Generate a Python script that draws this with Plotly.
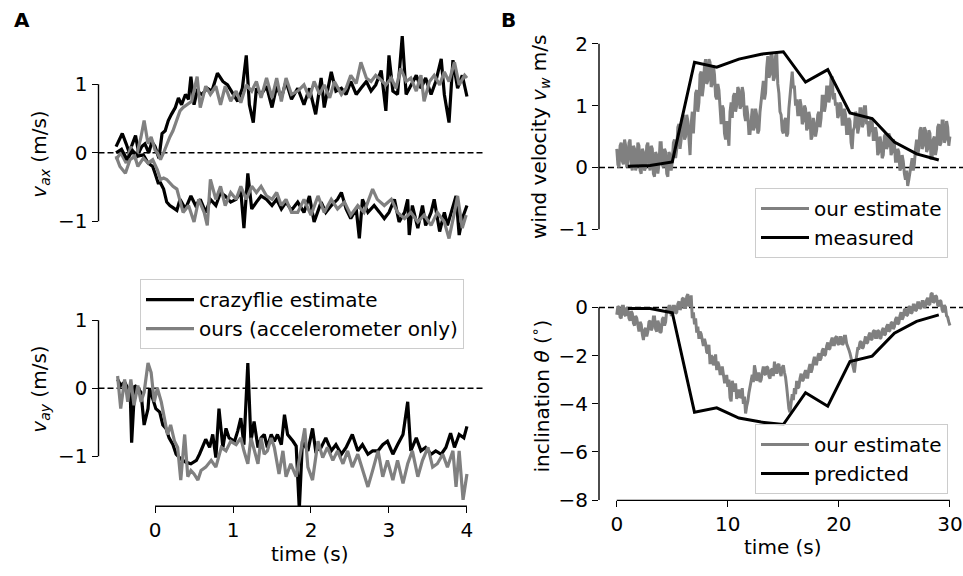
import numpy as np
import plotly.graph_objects as go

# ---------------- data ----------------
# Panel A, top: v_ax, two runs (positive / negative), (time s, m/s)
vax_pos_crazyflie = [(-0.50,0.09),(-0.42,0.28),(-0.37,0.13),(-0.33,0.00),(-0.29,0.13),(-0.25,0.25),(-0.21,0.00),(-0.17,0.09),(-0.13,0.13),(-0.08,0.00),(-0.04,0.16),(0.00,0.09),(0.05,-0.08),(0.09,0.28),(0.13,0.32),(0.17,0.47),(0.21,0.56),(0.26,0.66),(0.30,0.80),(0.34,0.70),(0.39,0.85),(0.43,0.78),(0.46,1.11),(0.50,0.70),(0.54,0.90),(0.60,0.85),(0.67,0.94),(0.73,0.90),(0.80,1.16),(0.87,1.04),(0.93,0.99),(1.00,0.85),(1.06,0.75),(1.12,0.94),(1.17,1.42),(1.21,0.70),(1.26,0.44),(1.30,0.94),(1.36,0.85),(1.43,0.97),(1.50,0.66),(1.56,0.97),(1.62,0.80),(1.68,1.04),(1.75,0.78),(1.83,0.94),(1.91,0.70),(1.98,0.94),(2.06,0.56),(2.13,1.09),(2.17,0.66),(2.26,1.18),(2.32,0.90),(2.39,0.94),(2.45,0.85),(2.51,1.04),(2.58,0.85),(2.64,0.94),(2.71,1.04),(2.77,0.90),(2.83,0.99),(2.90,1.20),(2.96,0.61),(3.00,1.42),(3.05,0.90),(3.11,0.85),(3.17,1.70),(3.22,0.85),(3.28,0.99),(3.35,1.13),(3.41,0.94),(3.47,1.09),(3.54,0.85),(3.60,1.04),(3.67,1.37),(3.71,0.85),(3.77,0.44),(3.82,1.35),(3.88,0.94),(3.94,1.13),(4.00,0.82)]
vax_pos_ours = [(-0.50,-0.10),(-0.44,0.00),(-0.37,-0.15),(-0.31,0.09),(-0.25,-0.10),(-0.18,0.23),(-0.14,0.47),(-0.09,0.13),(-0.05,0.23),(0.00,0.04),(0.03,0.00),(0.07,-0.10),(0.11,0.00),(0.15,0.13),(0.19,0.23),(0.23,0.32),(0.28,0.47),(0.32,0.61),(0.36,0.66),(0.41,0.70),(0.47,0.75),(0.54,1.11),(0.58,0.66),(0.65,0.97),(0.71,0.85),(0.78,0.97),(0.84,0.70),(0.90,0.97),(0.97,0.75),(1.04,0.90),(1.10,0.73),(1.17,0.99),(1.24,0.90),(1.30,1.04),(1.36,0.80),(1.43,1.09),(1.50,0.80),(1.56,1.09),(1.62,0.75),(1.68,1.09),(1.75,0.85),(1.83,0.90),(1.91,0.99),(1.98,0.80),(2.04,1.04),(2.11,0.85),(2.17,0.99),(2.24,0.80),(2.30,1.04),(2.39,0.85),(2.45,0.94),(2.51,1.13),(2.58,1.01),(2.64,1.32),(2.71,1.09),(2.77,1.04),(2.83,1.13),(2.90,1.06),(2.96,0.99),(3.03,1.09),(3.09,0.94),(3.15,1.23),(3.22,1.04),(3.28,1.09),(3.35,0.90),(3.41,1.13),(3.45,0.75),(3.52,1.04),(3.58,1.13),(3.65,0.99),(3.71,1.18),(3.77,1.04),(3.84,1.32),(3.90,0.99),(3.97,1.13),(4.00,1.09)]
vax_neg_crazyflie = [(-0.50,0.00),(-0.43,0.05),(-0.36,-0.10),(-0.29,0.03),(-0.22,-0.05),(-0.15,-0.03),(-0.09,-0.15),(-0.03,-0.20),(0.00,-0.30),(0.04,-0.44),(0.07,-0.44),(0.11,-0.53),(0.15,-0.72),(0.19,-0.77),(0.23,-0.80),(0.28,-0.84),(0.32,-0.68),(0.39,-0.82),(0.46,-0.63),(0.52,-0.77),(0.58,-0.68),(0.65,-0.87),(0.71,-0.68),(0.78,-0.77),(0.84,-0.58),(0.90,-0.63),(0.97,-0.72),(1.04,-0.68),(1.10,-0.56),(1.14,-1.10),(1.19,-0.30),(1.24,-0.82),(1.30,-0.72),(1.36,-0.63),(1.43,-0.68),(1.50,-0.77),(1.56,-0.68),(1.62,-0.82),(1.68,-0.72),(1.75,-0.84),(1.83,-0.72),(1.91,-0.87),(1.98,-0.63),(2.04,-1.01),(2.13,-0.72),(2.19,-0.87),(2.26,-0.77),(2.34,-0.68),(2.39,-0.58),(2.45,-0.82),(2.51,-0.96),(2.58,-0.82),(2.62,-1.25),(2.66,-0.68),(2.73,-0.87),(2.81,-0.77),(2.88,-0.87),(2.94,-0.96),(3.00,-0.87),(3.07,-0.68),(3.13,-1.01),(3.20,-0.87),(3.24,-0.68),(3.26,-1.20),(3.30,-0.77),(3.37,-1.10),(3.43,-0.77),(3.47,-1.06),(3.54,-0.87),(3.58,-0.68),(3.65,-1.15),(3.71,-0.87),(3.75,-1.06),(3.80,-0.87),(3.86,-0.63),(3.90,-1.20),(3.94,-0.96),(4.00,-0.77)]
vax_neg_ours = [(-0.50,-0.05),(-0.45,-0.20),(-0.38,-0.30),(-0.32,-0.10),(-0.26,-0.05),(-0.22,-0.20),(-0.15,-0.08),(-0.09,-0.15),(-0.03,-0.10),(0.03,-0.25),(0.07,-0.39),(0.11,-0.37),(0.15,-0.39),(0.19,-0.44),(0.23,-0.49),(0.28,-0.53),(0.32,-0.68),(0.36,-0.87),(0.43,-0.77),(0.50,-1.01),(0.56,-0.68),(0.63,-0.87),(0.67,-1.06),(0.71,-0.39),(0.78,-0.68),(0.84,-0.49),(0.90,-0.77),(0.97,-0.58),(1.04,-0.68),(1.10,-0.49),(1.17,-0.68),(1.24,-0.49),(1.30,-0.58),(1.36,-0.49),(1.43,-0.63),(1.50,-0.68),(1.56,-0.58),(1.62,-0.77),(1.68,-0.68),(1.75,-0.87),(1.83,-0.87),(1.91,-0.68),(2.00,-0.91),(2.09,-0.63),(2.17,-0.87),(2.26,-0.68),(2.34,-0.82),(2.43,-0.72),(2.51,-0.91),(2.60,-0.77),(2.68,-0.87),(2.79,-0.53),(2.85,-0.68),(2.94,-0.77),(3.03,-0.68),(3.11,-0.87),(3.20,-0.96),(3.28,-0.87),(3.37,-1.01),(3.45,-0.91),(3.54,-1.06),(3.62,-0.87),(3.71,-1.01),(3.77,-1.25),(3.84,-0.87),(3.88,-0.63),(3.94,-1.10),(3.99,-0.91)]

# Panel A, bottom: v_ay
vay_crazyflie = [(-0.48,0.13),(-0.44,0.04),(-0.39,0.09),(-0.35,0.00),(-0.32,0.00),(-0.30,-0.80),(-0.26,0.04),(-0.22,0.00),(-0.18,-0.06),(-0.14,-0.54),(-0.09,-0.30),(-0.07,0.00),(-0.03,-0.15),(0.01,-0.30),(0.06,-0.35),(0.10,-0.54),(0.14,-0.59),(0.18,-0.73),(0.23,-0.83),(0.27,-0.97),(0.33,-1.04),(0.40,-1.09),(0.46,-1.11),(0.53,-1.06),(0.57,-0.97),(0.61,-0.87),(0.65,-0.75),(0.70,-0.87),(0.74,-0.68),(0.78,-1.02),(0.82,-0.30),(0.87,-0.87),(0.91,-0.59),(0.95,-0.73),(1.02,-0.78),(1.06,-0.63),(1.10,-0.44),(1.14,-0.83),(1.19,0.37),(1.23,-0.78),(1.27,-0.49),(1.32,-0.87),(1.36,-0.73),(1.40,-0.68),(1.44,-0.87),(1.49,-0.68),(1.53,-0.78),(1.57,-0.68),(1.62,-0.83),(1.66,-0.39),(1.70,-0.68),(1.77,-0.78),(1.81,-0.85),(1.85,-1.78),(1.89,-0.78),(1.96,-0.92),(2.02,-0.59),(2.06,-0.92),(2.13,-0.87),(2.19,-0.73),(2.26,-0.92),(2.32,-0.83),(2.39,-0.97),(2.45,-0.87),(2.53,-0.68),(2.60,-0.92),(2.66,-0.83),(2.73,-0.97),(2.79,-0.92),(2.86,-0.92),(2.92,-0.83),(2.98,-0.78),(3.05,-0.97),(3.11,-0.83),(3.18,-0.68),(3.24,-0.20),(3.28,-0.92),(3.35,-0.73),(3.41,-0.92),(3.47,-0.87),(3.54,-0.97),(3.60,-0.92),(3.67,-0.97),(3.73,-0.87),(3.79,-0.66),(3.84,-0.87),(3.90,-0.68),(3.96,-0.73),(4.00,-0.56)]
vay_ours = [(-0.48,0.18),(-0.44,-0.30),(-0.39,0.13),(-0.35,-0.20),(-0.31,0.13),(-0.27,-0.25),(-0.22,0.04),(-0.18,-0.20),(-0.14,-0.06),(-0.09,0.37),(-0.05,0.23),(-0.01,-0.20),(0.03,0.00),(0.08,-0.20),(0.12,-0.44),(0.16,-0.68),(0.20,-0.54),(0.25,-0.78),(0.29,-0.87),(0.33,-1.35),(0.38,-0.68),(0.42,-1.30),(0.46,-1.21),(0.50,-1.26),(0.55,-1.35),(0.59,-1.21),(0.65,-1.16),(0.72,-1.06),(0.78,-1.16),(0.85,-0.87),(0.91,-0.92),(0.97,-0.78),(1.04,-0.83),(1.10,-0.73),(1.14,-0.92),(1.19,-1.11),(1.23,-0.73),(1.27,-0.92),(1.32,-1.11),(1.36,-0.73),(1.40,-0.97),(1.44,-0.92),(1.49,-0.73),(1.53,-0.87),(1.59,-1.26),(1.64,-0.92),(1.68,-1.30),(1.74,-1.11),(1.81,-1.30),(1.87,-0.92),(1.92,-0.59),(1.96,-1.16),(2.02,-1.35),(2.09,-0.78),(2.15,-1.02),(2.21,-0.87),(2.28,-1.06),(2.34,-0.92),(2.41,-1.11),(2.47,-0.92),(2.53,-1.16),(2.60,-0.97),(2.66,-1.21),(2.73,-1.45),(2.79,-1.21),(2.86,-0.92),(2.92,-1.30),(2.98,-1.06),(3.05,-1.35),(3.11,-1.06),(3.18,-1.40),(3.24,-1.11),(3.30,-0.92),(3.37,-1.30),(3.43,-1.06),(3.50,-0.87),(3.56,-1.16),(3.62,-1.11),(3.69,-0.97),(3.75,-1.16),(3.82,-0.92),(3.86,-1.45),(3.90,-0.92),(3.95,-1.64),(4.00,-1.26)]

# Panel B, top: wind velocity (m/s); estimate sampled every 0.1 s from 0 to 30 s (one row per second)
wind_estimate = [
    0.30,0.05,0.00,0.35,0.40,0.10,0.05,0.45,0.35,0.00,
    0.10,0.40,0.45,0.05,-0.05,0.35,0.30,-0.05,0.05,0.40,
    0.35,-0.05,-0.10,0.30,0.25,-0.05,0.00,0.35,0.40,0.05,
    -0.05,0.35,0.30,-0.10,-0.15,0.25,0.20,-0.10,0.05,0.40,
    0.40,0.05,0.00,0.30,0.25,-0.10,-0.15,0.25,0.20,-0.05,
    0.10,0.40,0.45,0.15,0.30,0.65,0.70,0.30,0.45,0.80,
    0.85,0.45,0.50,0.85,0.75,0.35,0.20,0.70,0.90,0.55,
    0.80,1.20,1.25,0.90,1.05,1.50,1.55,1.15,1.30,1.65,
    1.75,1.35,1.40,1.75,1.70,1.30,1.35,1.65,1.50,1.15,
    1.10,1.35,1.25,0.85,0.70,1.00,0.95,0.55,0.45,0.75,
    0.55,0.35,0.90,1.05,0.80,1.15,1.20,0.90,1.00,1.30,
    1.25,0.95,1.00,1.30,1.20,0.85,0.75,1.00,0.85,0.55,
    0.55,0.85,0.95,0.60,0.65,0.95,0.85,0.55,0.60,0.90,
    1.05,1.30,1.40,1.10,1.20,1.60,1.80,1.45,1.50,1.85,
    1.80,1.40,1.45,1.80,1.85,1.35,1.20,0.90,0.85,0.60,
    0.55,0.75,0.80,0.50,0.55,0.95,1.20,1.45,1.55,1.30,
    1.30,1.00,1.10,0.85,0.85,1.10,1.00,0.70,0.75,1.00,
    0.95,0.60,0.65,0.90,0.80,0.45,0.50,0.80,0.70,0.50,
    0.60,0.85,0.90,0.65,0.80,1.15,1.15,0.90,1.00,1.30,
    1.30,1.05,1.15,1.45,1.45,1.10,1.20,1.00,1.05,0.80,
    0.85,1.05,1.00,0.70,0.70,0.95,0.85,0.55,0.55,0.80,
    0.75,0.40,0.30,0.60,0.65,0.90,0.85,0.55,0.65,0.95,
    0.95,0.65,0.70,0.98,0.98,0.70,0.75,0.50,0.60,0.80,
    0.75,0.45,0.45,0.65,0.55,0.20,0.25,0.50,0.40,0.15,
    0.20,0.50,0.55,0.30,0.35,0.55,0.50,0.20,0.25,0.45,
    0.40,0.10,0.10,0.30,0.25,-0.05,0.00,0.20,0.10,-0.10,
    -0.20,-0.05,-0.30,-0.20,-0.05,0.10,0.15,-0.05,0.05,0.30,
    0.45,0.20,0.30,0.60,0.65,0.30,0.35,0.65,0.60,0.25,
    0.30,0.60,0.55,0.15,0.15,0.45,0.50,0.20,0.30,0.65,
    0.70,0.35,0.40,0.75,0.75,0.40,0.45,0.75,0.65,0.35,
    0.50]
wind_meas_t = [1, 3, 5, 7, 9, 11, 13, 15, 17, 19, 21, 23, 25, 27, 29]
wind_measured = [0.02, 0.03, 0.09, 1.70, 1.62, 1.75, 1.83, 1.87, 1.38, 1.58, 0.88, 0.79, 0.41, 0.22, 0.12]

# Panel B, bottom: inclination (deg); estimate sampled every 0.1 s from 0 to 30 s
incl_estimate = [
    -0.30,0.05,0.00,-0.40,-0.45,0.05,0.05,-0.30,-0.35,0.00,
    -0.10,-0.45,-0.55,-0.15,-0.25,-0.65,-0.75,-0.35,-0.45,-0.85,
    -1.00,-0.60,-0.70,-1.10,-1.35,-0.95,-0.85,-1.20,-1.00,-0.60,
    -0.55,-0.95,-0.85,-0.40,-0.40,-0.90,-1.00,-0.55,-0.70,-1.05,
    -1.00,-0.50,-0.40,-0.75,-0.60,-0.10,-0.10,0.05,0.05,-0.30,
    -0.30,0.05,0.05,-0.25,-0.20,0.15,0.25,-0.10,0.00,0.35,
    0.40,0.00,0.00,0.45,0.55,0.05,0.10,0.50,-0.45,-0.20,
    -0.70,-0.45,-1.05,-0.80,-1.30,-1.00,-1.10,-1.35,-1.60,-1.30,
    -1.50,-1.85,-1.90,-1.55,-2.35,-2.00,-2.05,-2.40,-2.25,-1.95,
    -2.60,-2.25,-2.40,-2.75,-2.75,-2.45,-2.85,-3.10,-3.10,-2.80,
    -3.30,-3.00,-3.75,-3.90,-3.05,-3.35,-3.50,-3.15,-3.80,-3.55,
    -3.40,-3.75,-3.70,-3.35,-4.00,-3.70,-4.40,-4.10,-3.90,-3.55,
    -3.30,-3.05,-2.80,-3.10,-2.40,-2.65,-3.05,-2.75,-2.75,-3.10,
    -3.00,-2.70,-2.45,-2.75,-2.80,-2.45,-2.50,-2.85,-2.95,-2.60,
    -2.55,-2.85,-2.25,-2.55,-2.75,-2.40,-2.35,-2.70,-2.85,-2.50,
    -2.40,-2.70,-2.90,-3.30,-3.90,-4.20,-4.35,-3.95,-3.60,-3.85,
    -3.35,-3.60,-3.05,-3.35,-3.30,-2.95,-2.75,-3.05,-3.00,-2.75,
    -2.60,-2.90,-2.90,-2.55,-2.35,-2.70,-2.55,-2.25,-2.05,-2.35,
    -2.35,-2.05,-1.90,-2.20,-2.10,-1.80,-1.70,-2.00,-1.95,-1.60,
    -1.45,-1.75,-1.70,-1.40,-1.25,-1.55,-1.55,-1.25,-1.20,-1.50,
    -1.55,-1.25,-1.25,-1.55,-1.50,-1.20,-1.20,-1.50,-1.60,-1.75,
    -1.90,-2.10,-2.25,-2.45,-2.70,-2.30,-1.95,-1.70,-1.70,-1.45,
    -1.40,-1.70,-1.65,-1.35,-1.20,-1.50,-1.45,-1.15,-1.05,-1.35,
    -1.30,-1.00,-0.95,-1.25,-1.25,-0.95,-1.00,-1.30,-1.25,-0.95,
    -0.85,-1.15,-1.10,-0.80,-0.70,-1.00,-0.95,-0.65,-0.60,-0.90,
    -0.80,-0.50,-0.40,-0.70,-0.65,-0.35,-0.20,-0.50,-0.40,-0.10,
    -0.05,-0.35,-0.30,0.00,0.05,-0.25,-0.20,0.10,0.10,-0.15,
    -0.10,0.20,0.20,-0.05,0.00,0.25,0.25,0.00,0.05,0.30,
    0.40,0.10,0.15,0.55,0.60,0.20,0.25,0.50,0.45,0.10,
    0.05,0.30,0.25,-0.10,-0.20,0.10,0.00,-0.35,-0.40,-0.60,
    -0.75]
incl_pred_t = [1, 3, 5, 7, 9, 11, 13, 15, 17, 19, 21, 23, 25, 27, 29]
incl_predicted = [-0.04, -0.04, -0.22, -4.35, -4.17, -4.59, -4.76, -4.86, -3.54, -4.10, -2.25, -2.02, -1.07, -0.58, -0.31]

# ---------------- styling ----------------
FONT = "DejaVu Sans"
FS = 20
BLACK = "#000000"
GRAY = "#808080"
LW = 3.2
W, H = 963, 576


def px_x(p):
    return p / W


def px_y(p):
    return 1 - p / H


def unzip(pairs):
    return [p[0] for p in pairs], [p[1] for p in pairs]


fig = go.Figure()

# Panel A top
for pairs, col in [(vax_pos_crazyflie, BLACK), (vax_pos_ours, GRAY),
                   (vax_neg_crazyflie, BLACK), (vax_neg_ours, GRAY)]:
    t, v = unzip(pairs)
    fig.add_trace(go.Scatter(x=t, y=v, mode="lines", line=dict(color=col, width=LW),
                             xaxis="x", yaxis="y", showlegend=False))

# Panel A bottom
t, v = unzip(vay_crazyflie)
fig.add_trace(go.Scatter(x=t, y=v, mode="lines", line=dict(color=BLACK, width=LW),
                         xaxis="x2", yaxis="y2", name="crazyflie estimate", legend="legend"))
t, v = unzip(vay_ours)
fig.add_trace(go.Scatter(x=t, y=v, mode="lines", line=dict(color=GRAY, width=LW),
                         xaxis="x2", yaxis="y2", name="ours (accelerometer only)", legend="legend"))

# Panel B top
t_est = np.linspace(0, 30, len(wind_estimate))
fig.add_trace(go.Scatter(x=t_est, y=wind_estimate, mode="lines", line=dict(color=GRAY, width=3),
                         xaxis="x3", yaxis="y3", name="our estimate", legend="legend2"))
fig.add_trace(go.Scatter(x=wind_meas_t, y=wind_measured, mode="lines", line=dict(color=BLACK, width=3),
                         xaxis="x3", yaxis="y3", name="measured", legend="legend2"))

# Panel B bottom
t_inc = np.linspace(0, 30, len(incl_estimate))
fig.add_trace(go.Scatter(x=t_inc, y=incl_estimate, mode="lines", line=dict(color=GRAY, width=3),
                         xaxis="x4", yaxis="y4", name="our estimate", legend="legend3"))
fig.add_trace(go.Scatter(x=incl_pred_t, y=incl_predicted, mode="lines", line=dict(color=BLACK, width=3),
                         xaxis="x4", yaxis="y4", name="predicted", legend="legend3"))

tickstyle = dict(ticks="outside", ticklen=6, tickwidth=1.4, tickcolor="black",
                 showgrid=False, zeroline=False, showline=False,
                 tickfont=dict(family=FONT, size=FS, color="black"))

left_dom = [px_x(98.5), px_x(484.5)]
right_dom = [px_x(599), 1.0]
left_xr = [-0.725, 4.225]
right_xr = [-1.6, 31.18]

fig.update_layout(
    xaxis=dict(domain=left_dom, range=left_xr, anchor="y", showticklabels=False, ticks="",
               showgrid=False, zeroline=False, showline=False),
    yaxis=dict(domain=[px_y(258), px_y(25)], range=[-1.457, 1.871], anchor="x",
               tickvals=[-1, 0, 1], **tickstyle),
    xaxis2=dict(domain=left_dom, range=left_xr, anchor="y2", tickvals=[0, 1, 2, 3, 4], **tickstyle),
    yaxis2=dict(domain=[px_y(517), px_y(280)], range=[-1.734, 1.676], anchor="x2",
                tickvals=[-1, 0, 1], **tickstyle),
    xaxis3=dict(domain=right_dom, range=right_xr, anchor="y3", showticklabels=False, ticks="",
                showgrid=False, zeroline=False, showline=False),
    yaxis3=dict(domain=[px_y(260), px_y(30)], range=[-1.408, 2.231], anchor="x3",
                tickvals=[-1, 0, 1, 2], **tickstyle),
    xaxis4=dict(domain=right_dom, range=right_xr, anchor="y4", tickvals=[0, 10, 20, 30], **tickstyle),
    yaxis4=dict(domain=[px_y(511), px_y(290)], range=[-8.01, 0.976], anchor="x4",
                tickvals=[-8, -6, -4, -2, 0], **tickstyle),
)

legend_style = dict(bgcolor="rgba(255,255,255,0.8)", bordercolor="#cccccc", borderwidth=1,
                    font=dict(family=FONT, size=FS, color="black"), xanchor="left", yanchor="top",
                    itemwidth=48, tracegroupgap=0)
fig.update_layout(
    legend=dict(x=px_x(140), y=px_y(285), **legend_style),
    legend2=dict(x=px_x(755), y=px_y(192), **legend_style),
    legend3=dict(x=px_x(755), y=px_y(433), **legend_style),
)

shapes = []
spine = dict(color="black", width=1.4)
# y spines (trimmed to tick range)
for ax, lo, hi in [("", -1, 1), ("2", -1, 1), ("3", -1, 2), ("4", -8, 0)]:
    shapes.append(dict(type="line", xref=f"x{ax} domain", yref=f"y{ax}", x0=0, x1=0, y0=lo, y1=hi, line=spine))
# x spines (bottom panels)
for ax, lo, hi in [("2", 0, 4), ("4", 0, 30)]:
    shapes.append(dict(type="line", xref=f"x{ax}", yref=f"y{ax} domain", x0=lo, x1=hi, y0=0, y1=0, line=spine))
# dashed zero lines
for ax in ["", "2", "3", "4"]:
    shapes.append(dict(type="line", xref=f"x{ax} domain", yref=f"y{ax}", x0=0, x1=1, y0=0, y1=0,
                       line=dict(color="black", width=1.4, dash="6px,3px"), layer="below"))
fig.update_layout(shapes=shapes)

ann_font = dict(family=FONT, size=FS, color="black")
annotations = [
    dict(text="<i>v</i><sub><i>ax</i></sub> (m/s)", x=px_x(40), y=px_y(158), textangle=-90),
    dict(text="<i>v</i><sub><i>ay</i></sub> (m/s)", x=px_x(40), y=px_y(398), textangle=-90),
    dict(text="wind velocity <i>v</i><sub><i>w</i></sub> m/s", x=px_x(540), y=px_y(140), textangle=-90),
    dict(text="inclination <i>θ</i> (<sup>∘</sup>)", x=px_x(540), y=px_y(405), textangle=-90),
    dict(text="time (s)", x=px_x(310), y=px_y(566), textangle=0),
    dict(text="time (s)", x=px_x(783), y=px_y(559), textangle=0),
]
for a in annotations:
    a.update(xref="paper", yref="paper", showarrow=False, xanchor="center", yanchor="middle", font=ann_font)
annotations += [
    dict(text="<b>A</b>", x=px_x(22), y=px_y(20), xref="paper", yref="paper", showarrow=False,
         xanchor="center", yanchor="middle", font=dict(family=FONT, size=FS, color="black")),
    dict(text="<b>B</b>", x=px_x(508), y=px_y(20), xref="paper", yref="paper", showarrow=False,
         xanchor="center", yanchor="middle", font=dict(family=FONT, size=FS, color="black")),
]
fig.update_layout(annotations=annotations)

fig.update_layout(width=W, height=H, autosize=False, margin=dict(l=0, r=0, t=0, b=0),
                  paper_bgcolor="white", plot_bgcolor="white",
                  font=dict(family=FONT, size=FS, color="black"))

# pin the figure to the window's top-left corner so the page is exactly 963x576
post = ("document.body.style.margin='0';"
        "var gd=document.getElementById('{plot_id}');"
        "gd.style.position='fixed';gd.style.top='0px';gd.style.left='0px';")
fig.write_html("out.html", config={"displayModeBar": False, "responsive": False}, post_script=post)
